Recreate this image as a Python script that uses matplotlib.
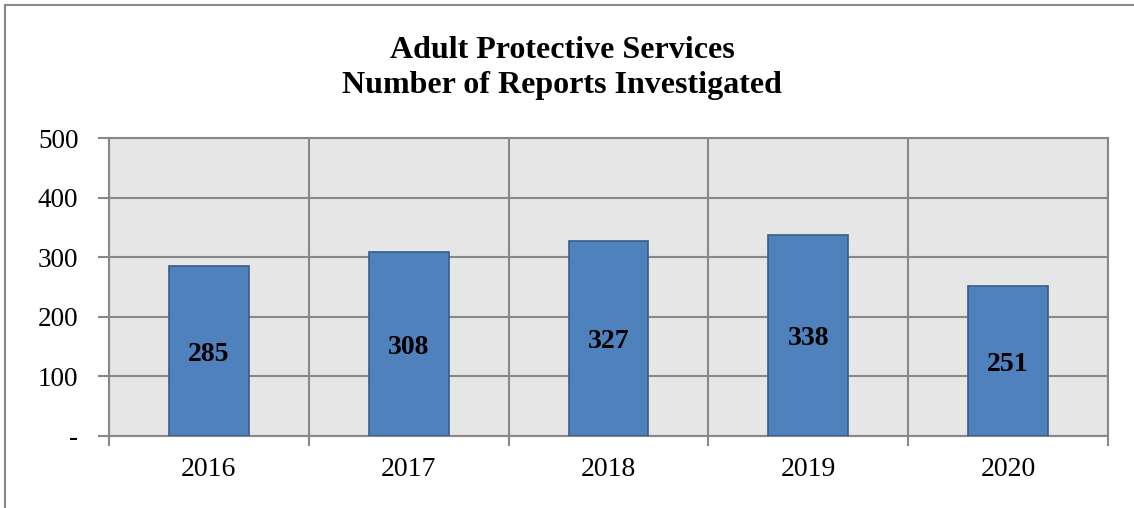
import matplotlib.pyplot as plt
from matplotlib.lines import Line2D
import numpy as np

years = ['2016', '2017', '2018', '2019', '2020']
reports = [285, 308, 327, 338, 251]
y_ticks = [0, 100, 200, 300, 400, 500]
y_tick_labels = ['-', '100', '200', '300', '400', '500']

plt.rcParams['font.family'] = ['Liberation Serif', 'DejaVu Serif']

fig = plt.figure(figsize=(11.34, 5.08), dpi=100)
ax = fig.add_axes([109 / 1134, 72 / 508, 999 / 1134, 298 / 508])
ax.set_facecolor('#e6e6e6')

x = np.arange(len(years))
bars = ax.bar(x, reports, width=0.4, color='#4f81bd', edgecolor='#385d8a',
              linewidth=1.2, zorder=3)
for b, v in zip(bars, reports):
    ax.text(b.get_x() + b.get_width() / 2, v / 2, str(v), ha='center',
            va='center_baseline', fontsize=20, fontweight='bold', zorder=4)

ax.set_xlim(-0.5, len(years) - 0.5)
ax.set_ylim(0, 500)
ax.set_yticks(y_ticks)
ax.set_yticklabels(y_tick_labels, fontsize=19.5)

# category labels sit between the boundary ticks
ax.set_xticks(np.arange(len(years) + 1) - 0.5)
ax.set_xticklabels([])
ax.set_xticks(x, minor=True)
ax.set_xticklabels(years, minor=True, fontsize=20)
ax.tick_params(axis='x', which='minor', length=0, pad=15)
ax.tick_params(axis='x', which='major', length=7, width=1.5, color='#888888')
ax.tick_params(axis='y', length=8, width=1.5, color='#888888', pad=14)

ax.grid(True, which='major', color='#888888', linewidth=1.5, zorder=1)
ax.set_axisbelow(True)
for s in ax.spines.values():
    s.set_color('#888888')
    s.set_linewidth(1.5)

fig.suptitle('Adult Protective Services\nNumber of Reports Investigated',
             x=562 / 1134, y=1 - 68 / 508, fontsize=23, fontweight='bold',
             linespacing=1.27, va='center')

# outer chart frame
fig.add_artist(Line2D([5 / 1134, 5 / 1134], [0, 1 - 5 / 508],
                      transform=fig.transFigure, color='#888888', linewidth=1.5))
fig.add_artist(Line2D([5 / 1134, 1], [1 - 5 / 508, 1 - 5 / 508],
                      transform=fig.transFigure, color='#888888', linewidth=1.5))

fig.savefig('out.png', dpi=100)
